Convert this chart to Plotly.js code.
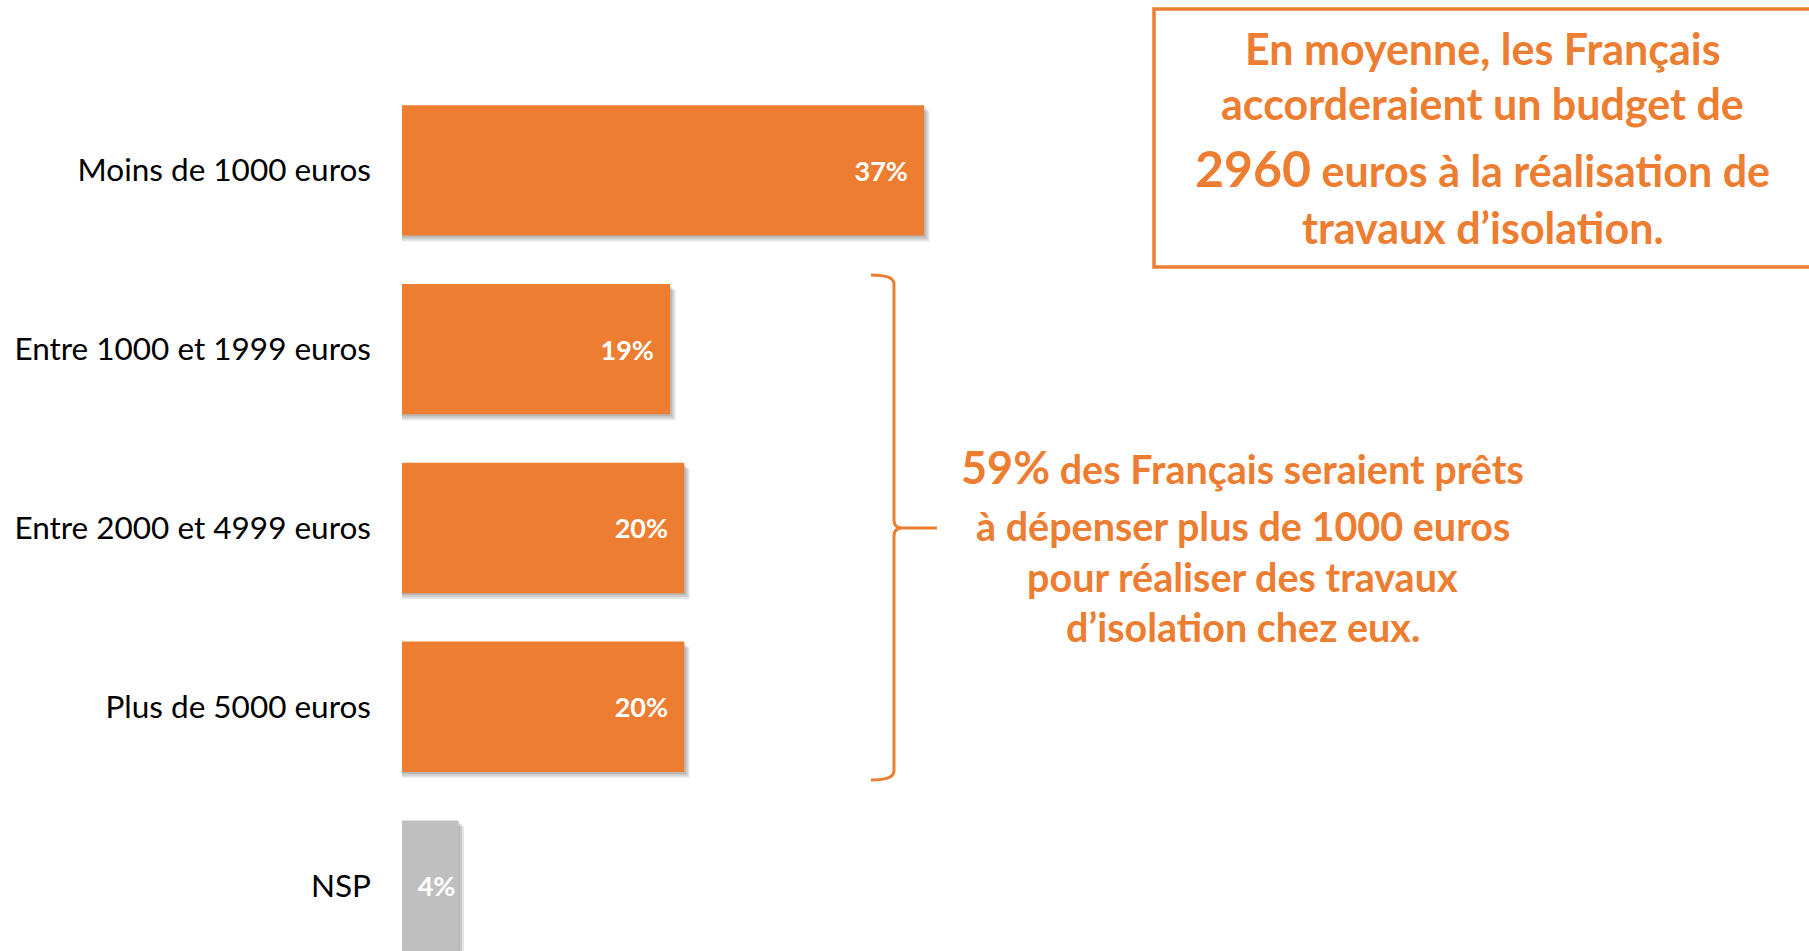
<!DOCTYPE html>
<html>
<head>
<meta charset="utf-8">
<script src="https://cdn.plot.ly/plotly-3.0.1.min.js"></script>
<style>
  html, body { margin: 0; padding: 0; background: #ffffff; overflow: hidden; }
  #chart { width: 1809px; height: 951px; }
</style>
</head>
<body>
<div id="chart"></div>
<script>
// ---- Data ----
const categories = ['Moins de 1000 euros', 'Entre 1000 et 1999 euros', 'Entre 2000 et 4999 euros', 'Plus de 5000 euros', 'NSP'];
const values = [37, 19, 20, 20, 4];
const barColors = ['#ED7D31', '#ED7D31', '#ED7D31', '#ED7D31', '#BFBFBF'];

const boxLines = [
  'En moyenne, les Français',
  'accorderaient un budget de',
  '<span style="font-size:50px">2960</span> euros à la réalisation de',
  'travaux d’isolation.'
];
const braceLines = [
  '<span style="font-size:45px">59%</span> des Français seraient prêts',
  'à dépenser plus de 1000 euros',
  'pour réaliser des travaux',
  'd’isolation chez eux.'
];

// ---- Geometry helpers (layout in pixels -> paper coords) ----
const L = 402, T = 81, W = 1340, H = 870;
const PX_PER_UNIT = 14.11;
const px = x => (x - L) / W;
const py = y => 1 - (y - T) / H;

const ORANGE = '#ED7D31';
const FONT = 'Lato, "Open Sans", sans-serif';
const barWidth = 0.729;

// soft shadow layers
const traces = [];
[3, 2, 1].forEach(k => {
  traces.push({
    type: 'bar', orientation: 'h',
    y: categories,
    x: values.map(v => v + k * 0.13),
    width: barWidth,
    offset: -barWidth / 2 + k * 0.011,
    marker: { color: 'rgba(0,0,0,0.10)', line: { width: 0 } },
    hoverinfo: 'skip', showlegend: false
  });
});

const pad = '\u00a0\u00a0';
traces.push({
  type: 'bar', orientation: 'h',
  y: categories,
  x: values,
  width: barWidth,
  offset: -barWidth / 2,
  marker: { color: barColors, line: { width: 0 } },
  text: values.map(v => v + '%' + (v >= 10 ? pad : '')),
  textposition: 'inside',
  insidetextanchor: 'end',
  constraintext: 'none',
  textfont: { family: FONT, size: 27, color: '#ffffff', weight: 'bold' },
  hoverinfo: 'skip', showlegend: false
});

const annotations = [];
const boxY = [48.5, 104, 168, 227.3];
boxLines.forEach((t, i) => {
  annotations.push({
    xref: 'paper', yref: 'paper', x: px(1482.5), y: py(boxY[i]),
    xanchor: 'center', yanchor: 'middle', showarrow: false,
    text: '<b>' + t + '</b>',
    font: { family: FONT, size: 43, color: ORANGE }
  });
});
const braceY = [467, 525, 576, 626.5];
braceLines.forEach((t, i) => {
  annotations.push({
    xref: 'paper', yref: 'paper', x: px(1242.6), y: py(braceY[i]),
    xanchor: 'center', yanchor: 'middle', showarrow: false,
    text: '<b>' + t + '</b>',
    font: { family: FONT, size: 39.5, color: ORANGE }
  });
});

function P(x, y) { return px(x).toFixed(5) + ',' + py(y).toFixed(5); }
const bracePath =
  'M' + P(871, 275) + ' Q' + P(894, 275) + ' ' + P(894, 284) +
  ' L' + P(894, 520) + ' Q' + P(894, 528) + ' ' + P(902, 528) +
  ' L' + P(937, 528) +
  ' M' + P(902, 528) + ' Q' + P(894, 528) + ' ' + P(894, 536) +
  ' L' + P(894, 771) + ' Q' + P(894, 780) + ' ' + P(871, 780);

const shapes = [
  {
    type: 'rect', xref: 'paper', yref: 'paper',
    x0: px(1154), x1: px(1840), y0: py(9), y1: py(267),
    line: { color: ORANGE, width: 3.5 }, fillcolor: 'rgba(0,0,0,0)'
  },
  {
    type: 'path', xref: 'paper', yref: 'paper', path: bracePath,
    line: { color: ORANGE, width: 3 }
  }
];

const layout = {
  width: 1809, height: 951,
  margin: { l: L, r: 1809 - L - W, t: T, b: 951 - T - H, pad: 0 },
  paper_bgcolor: '#ffffff', plot_bgcolor: '#ffffff',
  barmode: 'overlay',
  showlegend: false,
  hovermode: false,
  xaxis: {
    range: [0, W / PX_PER_UNIT], visible: false, showgrid: false, zeroline: false, fixedrange: true
  },
  yaxis: {
    type: 'category',
    range: [4.366, -0.5],
    showgrid: false, zeroline: false, showline: false,
    ticks: '', ticklabelstandoff: 30,
    tickfont: { family: FONT, size: 31.5, color: '#000000' },
    fixedrange: true
  },
  annotations: annotations,
  shapes: shapes
};

Plotly.newPlot('chart', traces, layout, { displayModeBar: false, staticPlot: true });
</script>
</body>
</html>
